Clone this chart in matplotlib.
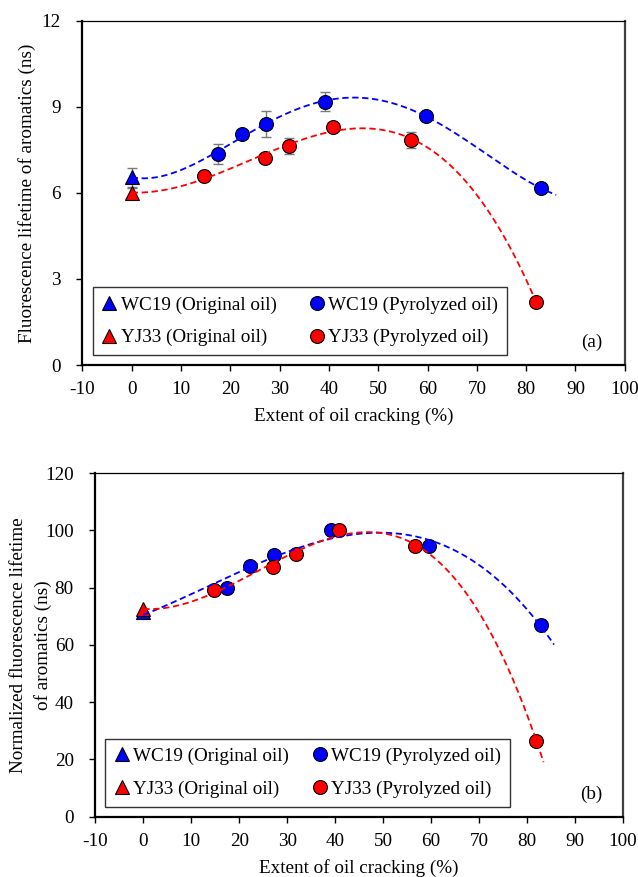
import numpy as np
import matplotlib
matplotlib.use("Agg")
import matplotlib.pyplot as plt
from matplotlib.lines import Line2D

plt.rcParams['font.family'] = ['Liberation Serif', 'DejaVu Serif']
plt.rcParams['axes.unicode_minus'] = False
plt.rcParams['font.size'] = 13.8

# ---------------- data ----------------
# Panel (a): fluorescence lifetime of aromatics (ns)
wc19_orig_x = [0.0]
wc19_orig_y_a = [6.55]
wc19_orig_err_a = [0.33]
yj33_orig_x = [0.0]
yj33_orig_y_a = [6.0]
yj33_orig_err_a = [0.16]

wc19_pyro_x = [17.4, 22.3, 27.2, 39.2, 59.6, 83.0]
wc19_pyro_y_a = [7.35, 8.05, 8.40, 9.18, 8.68, 6.16]
wc19_pyro_err_a = [0.34, 0.10, 0.46, 0.32, 0.10, 0.10]

yj33_pyro_x = [14.7, 27.0, 31.8, 40.9, 56.6, 82.0]
yj33_pyro_y_a = [6.57, 7.23, 7.63, 8.31, 7.84, 2.21]
yj33_pyro_err_a = [0.10, 0.10, 0.29, 0.10, 0.27, 0.10]

# Panel (b): normalized fluorescence lifetime
wc19_orig_y_b = [71.4]
yj33_orig_y_b = [72.4]
wc19_pyro_y_b = [80.0, 87.7, 91.6, 100.0, 94.6, 66.8]
yj33_pyro_y_b = [79.2, 87.1, 91.9, 100.0, 94.6, 26.6]

# polynomial trendlines: end of line (x) and order
trend_end_a = {'WC19': 86.1, 'YJ33': 82.0}
trend_end_b = {'WC19': 85.7, 'YJ33': 83.5}
order_a = {'WC19': 4, 'YJ33': 3}
order_b = {'WC19': 3, 'YJ33': 3}

xticks = list(range(-10, 101, 10))
yticks_a = [0, 3, 6, 9, 12]
yticks_b = [0, 20, 40, 60, 80, 100, 120]

BLUE = '#0000FF'
RED = '#FF0000'
ERR = '#7a7a7a'

fig = plt.figure(figsize=(6.38, 8.77), dpi=100)
ax_a = fig.add_axes([0.1292, 0.5838, 0.8500, 0.3926])
ax_b = fig.add_axes([0.1495, 0.0688, 0.8264, 0.3916])


def trend(ax, xs, ys, xend, color, order):
    c = np.polyfit(xs, ys, order)
    xx = np.linspace(min(xs), xend, 300)
    ax.plot(xx, np.polyval(c, xx), color=color, lw=1.3,
            linestyle=(0, (3.5, 2.0)), zorder=5)


def style(ax, yticks, ylines, tag, ylab_centers, colsp):
    ax.set_xlim(-10, 100)
    ax.set_ylim(yticks[0], yticks[-1])
    ax.set_xticks(xticks)
    ax.set_yticks(yticks)
    ax.tick_params(direction='out', length=4.5, width=1.0,
                   labelsize=13.8, colors='black')
    ax.tick_params(axis='x', pad=7)
    ax.tick_params(axis='y', pad=11)
    for s in ['left', 'bottom']:
        ax.spines[s].set_linewidth(1.6)
        ax.spines[s].set_color('black')
    ax.spines['top'].set_linewidth(0.9)
    ax.spines['top'].set_color('black')
    ax.spines['right'].set_linewidth(1.6)
    ax.spines['right'].set_color('#404040')
    ax.set_xlabel('Extent of oil cracking (%)', fontsize=13.8, va='center')
    bbox = ax.get_position()
    hpx = bbox.height * 877
    wpx = bbox.width * 638
    ax.xaxis.set_label_coords(0.5, -51.5 / hpx)
    for line, cx in zip(ylines, ylab_centers):
        ax.text(cx / wpx, 0.5, line, transform=ax.transAxes, rotation=90,
                rotation_mode='anchor', ha='center', va='center',
                fontsize=13.8)
    ax.text(0.94, 0.065, tag, transform=ax.transAxes, fontsize=13.8,
            ha='center', va='center')
    handles = [
        Line2D([], [], marker='^', ls='none', color=BLUE, mec='black', mew=0.8, ms=10),
        Line2D([], [], marker='^', ls='none', color=RED, mec='black', mew=0.8, ms=10),
        Line2D([], [], marker='o', ls='none', color=BLUE, mec='black', mew=0.8, ms=10),
        Line2D([], [], marker='o', ls='none', color=RED, mec='black', mew=0.8, ms=10),
    ]
    labels = ['WC19 (Original oil)', 'YJ33 (Original oil)',
              'WC19 (Pyrolyzed oil)', 'YJ33 (Pyrolyzed oil)']
    leg = ax.legend(handles, labels, ncol=2, loc='lower left',
                    bbox_to_anchor=(0.019, 0.029), fontsize=13.8,
                    frameon=True, fancybox=False, edgecolor='black',
                    handlelength=0.8, handletextpad=0.2, columnspacing=colsp,
                    labelspacing=0.8, borderpad=0.45, borderaxespad=0.0)
    leg.get_frame().set_linewidth(1.0)
    leg.set_zorder(10)


# ---- panel (a)
xs_w = wc19_orig_x + wc19_pyro_x
ys_w = wc19_orig_y_a + wc19_pyro_y_a
xs_y = yj33_orig_x + yj33_pyro_x
ys_y = yj33_orig_y_a + yj33_pyro_y_a
trend(ax_a, xs_w, ys_w, trend_end_a['WC19'], BLUE, order_a['WC19'])
trend(ax_a, xs_y, ys_y, trend_end_a['YJ33'], RED, order_a['YJ33'])
for x, y, e, m, c in [
        (wc19_orig_x, wc19_orig_y_a, wc19_orig_err_a, '^', BLUE),
        (yj33_orig_x, yj33_orig_y_a, yj33_orig_err_a, '^', RED),
        (wc19_pyro_x, wc19_pyro_y_a, wc19_pyro_err_a, 'o', BLUE),
        (yj33_pyro_x, yj33_pyro_y_a, yj33_pyro_err_a, 'o', RED)]:
    ax_a.errorbar(x, y, yerr=e, fmt='none', ecolor=ERR, elinewidth=1.0,
                  capsize=3.5, capthick=1.0, zorder=2)
    ax_a.plot(x, y, ls='none', marker=m, ms=10, color=c, mec='black',
              mew=0.8, zorder=3)
style(ax_a, yticks_a, ['Fluorescence lifetime of aromatics (ns)'], '(a)',
      [27 - 82.4], 1.7)

# ---- panel (b)
trend(ax_b, xs_w, wc19_orig_y_b + wc19_pyro_y_b, trend_end_b['WC19'], BLUE,
      order_b['WC19'])
trend(ax_b, xs_y, yj33_orig_y_b + yj33_pyro_y_b, trend_end_b['YJ33'], RED,
      order_b['YJ33'])
for x, y, m, c in [
        (wc19_orig_x, wc19_orig_y_b, '^', BLUE),
        (yj33_orig_x, yj33_orig_y_b, '^', RED),
        (wc19_pyro_x, wc19_pyro_y_b, 'o', BLUE),
        (yj33_pyro_x, yj33_pyro_y_b, 'o', RED)]:
    ax_b.plot(x, y, ls='none', marker=m, ms=10, color=c, mec='black',
              mew=0.8, zorder=3)
style(ax_b, yticks_b, ['Normalized fluorescence lifetime', 'of aromatics (ns)'],
      '(b)', [18.3 - 95.4, 43.3 - 95.4], 1.2)

fig.savefig('out.png', dpi=100)
